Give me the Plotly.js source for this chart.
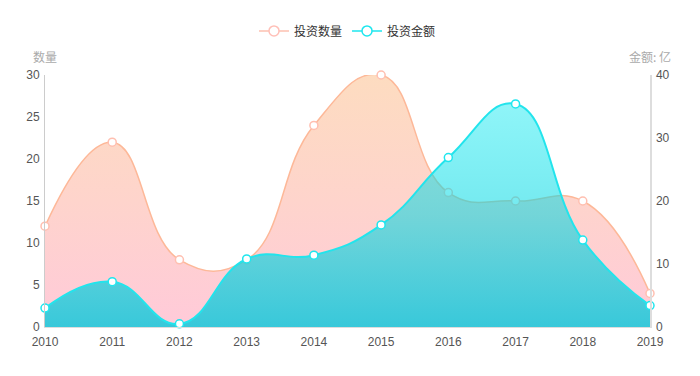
<!DOCTYPE html>
<html>
<head>
<meta charset="utf-8">
<script src="https://cdn.plot.ly/plotly-3.0.1.min.js"></script>
<style>
html,body{margin:0;padding:0;background:#fff;}
#chart{width:700px;height:376px;}
</style>
</head>
<body>
<div id="chart"></div>
<script>
const years = ['2010','2011','2012','2013','2014','2015','2016','2017','2018','2019'];
const countValues = [12, 22, 8, 8, 24, 30, 16, 15, 15, 4];
const amountValues = [3, 7.2, 0.5, 10.8, 11.4, 16.2, 26.9, 35.4, 13.8, 3.4];
const seriesNames = ['投资数量', '投资金额'];
const leftAxisName = '数量';
const rightAxisName = '金额: 亿';

const FONT = 'Liberation Sans, Helvetica, Arial, Noto Sans CJK SC, sans-serif';
const CJK = 'Noto Sans CJK SC, sans-serif';

const countLine = {shape: 'spline', smoothing: 1.3, color: '#fdb898', width: 1.5};
const countMarker = {symbol: 'circle', size: 8, color: '#ffffff', line: {color: '#ffbfb0', width: 1.5}};
const amountLine = {shape: 'spline', smoothing: 1.3, color: '#22e4ec', width: 2};
const amountMarker = {symbol: 'circle', size: 8, color: '#ffffff', line: {color: '#1ee6ee', width: 1.5}};

const traceCount = {
  x: years, y: countValues, name: seriesNames[0], showlegend: false,
  type: 'scatter', mode: 'lines+markers', yaxis: 'y',
  line: countLine, marker: countMarker,
  fill: 'tozeroy',
  fillgradient: {type: 'vertical', start: 0, stop: 30,
    colorscale: [[0, '#ffcad9'], [0.5, '#fed4cc'], [1, '#fddcc0']]},
  cliponaxis: false
};
const traceAmount = {
  x: years, y: amountValues, name: seriesNames[1], showlegend: false,
  type: 'scatter', mode: 'lines+markers', yaxis: 'y2',
  line: amountLine, marker: amountMarker,
  fill: 'tozeroy',
  fillgradient: {type: 'vertical', start: 0, stop: 35.4,
    colorscale: [[0, 'rgba(0,200,218,0.78)'], [0.5, 'rgba(0,215,226,0.55)'], [1, 'rgba(0,232,240,0.44)']]},
  cliponaxis: false
};
// legend entries (line + hollow circle, no fill swatch)
const legendCount = {x: [null], y: [null], name: seriesNames[0], type: 'scatter',
  mode: 'lines+markers', line: {color: '#fdc0b0', width: 1.5},
  marker: {symbol: 'circle', size: 10, color: '#ffffff', line: {color: '#ffc0b8', width: 1.5}}};
const legendAmount = {x: [null], y: [null], name: seriesNames[1], type: 'scatter',
  mode: 'lines+markers', yaxis: 'y2', line: {color: '#1ee6ee', width: 1.5},
  marker: {symbol: 'circle', size: 10, color: '#ffffff', line: {color: '#1ee6ee', width: 1.5}}};

const layout = {
  width: 700, height: 376,
  margin: {l: 45, r: 50, t: 75, b: 49},
  paper_bgcolor: '#ffffff', plot_bgcolor: '#ffffff',
  font: {family: FONT, size: 12, color: '#555'},
  showlegend: true,
  legend: {orientation: 'h', x: 0.5, xanchor: 'center', y: 1.175, yanchor: 'middle',
    font: {family: CJK, size: 12, color: '#333'}, itemwidth: 30},
  xaxis: {type: 'category', range: [0, 9], showgrid: false, zeroline: false,
    showline: true, linecolor: '#dddddd', linewidth: 1, ticks: '',
    tickfont: {size: 12, color: '#555'}, ticklabelstandoff: 4},
  yaxis: {range: [0, 30], dtick: 5, showgrid: false, zeroline: false,
    showline: true, linecolor: '#cccccc', linewidth: 1, ticks: '',
    tickfont: {size: 12, color: '#555'}, ticklabelstandoff: 2},
  yaxis2: {range: [0, 40], dtick: 10, overlaying: 'y', side: 'right',
    showgrid: false, zeroline: false, showline: true, linecolor: '#dddddd', linewidth: 1.5,
    ticks: '', tickfont: {size: 12, color: '#555'}, ticklabelstandoff: 2},
  annotations: [
    {text: leftAxisName, xref: 'paper', yref: 'paper', x: 0, y: 1, yshift: 19,
     xanchor: 'center', yanchor: 'middle', showarrow: false,
     font: {family: CJK, size: 12, color: '#aaaaaa'}},
    {text: rightAxisName, xref: 'paper', yref: 'paper', x: 1, y: 1, yshift: 19,
     xanchor: 'center', yanchor: 'middle', showarrow: false,
     font: {family: CJK, size: 12, color: '#aaaaaa'}}
  ]
};

Plotly.newPlot('chart', [traceCount, traceAmount, legendCount, legendAmount], layout,
  {displayModeBar: false, staticPlot: true});
</script>
</body>
</html>
